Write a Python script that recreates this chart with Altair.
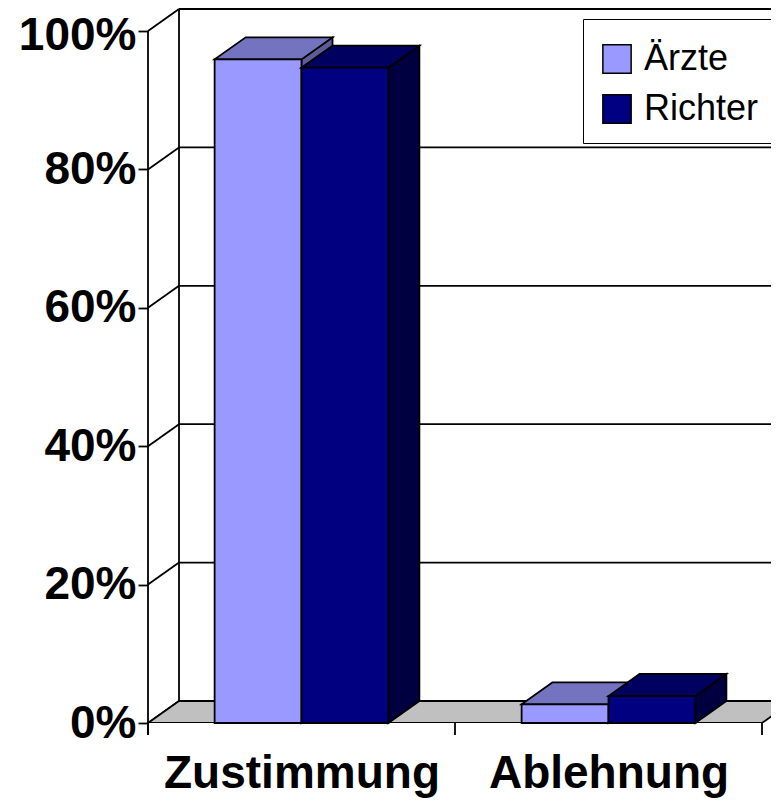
import json
import altair as alt
import pandas as pd

# ---- data ----
categories = ["Zustimmung", "Ablehnung"]
series = ["Ärzte", "Richter"]
aerzte = [95.9, 2.7]
richter = [94.7, 3.9]
y_ticks = [0, 20, 40, 60, 80, 100]

# ---- styling ----
front_colors = {"Ärzte": "#9999FF", "Richter": "#000080"}
top_colors = {"Ärzte": "#7373BF", "Richter": "#000060"}
side_colors = {"Ärzte": "#5C5C99", "Richter": "#000040"}
FONT = "Liberation Sans"
LW = 1.8

# geometry (category units on x, percent units on y)
BAR_W = 0.283
GAP = (1 - len(series) * BAR_W) / 2
DX = 0.101          # depth offset in category units
DY = 3.18           # depth offset in percent units
TICK = 1.73         # tick length below the floor, percent units
W, H = 623, 714
X_MAX = W / 307.0
Y_MAX = 100 + DY

values = {"Ärzte": aerzte, "Richter": richter}

xs = alt.Scale(domain=[0, X_MAX], nice=False, zero=False)
ys = alt.Scale(domain=[0, Y_MAX], nice=False, zero=False)

front_rows, top_rows, side_rows = [], [], []
for j, s in enumerate(series):
    for i, c in enumerate(categories):
        v = values[s][i]
        x0 = i + GAP + j * BAR_W
        x1 = x0 + BAR_W
        bid = f"{s}-{c}"
        front_rows.append({"series": s, "cat": c, "x": x0, "x2": x1, "y": v, "y2": 0})
        top_rows.append({"id": bid, "series": s, "y": v, "xl": x0, "xr": x1})
        top_rows.append({"id": bid, "series": s, "y": v + DY, "xl": x0 + DX, "xr": x1 + DX})
        side_rows.append({"id": bid, "series": s, "x": x1, "yt": v, "yb": 0})
        side_rows.append({"id": bid, "series": s, "x": x1 + DX, "yt": v + DY, "yb": DY})

front_df = pd.DataFrame(front_rows)
top_df = pd.DataFrame(top_rows)
side_df = pd.DataFrame(side_rows)

n = len(categories)
grid_df = pd.DataFrame({"t": y_ticks})
grid_df["yb"] = grid_df["t"] + DY
grid_df["x1"] = DX
grid_df["x2"] = X_MAX
grid_df["x0"] = 0.0

floor_df = pd.DataFrame({"y": [0, DY], "xl": [0, DX], "xr": [n, n + DX]})
tick_df = pd.DataFrame({"x": list(range(n + 1)), "y": -TICK, "y2": 0})

XAXIS = alt.Axis(values=[i + 0.5 for i in range(n)],
                 labelExpr=f"{json.dumps(categories)}[floor(datum.value)]",
                 ticks=False, domain=False, grid=False, title=None,
                 labelFontSize=46, labelFontWeight="bold", labelFont=FONT,
                 labelColor="black", labelPadding=28, labelFlush=False,
                 labelOverlap=False, labelLimit=600)
YAXIS = alt.Axis(values=y_ticks, labelExpr="datum.value + '%'",
                 domain=False, grid=False, title=None,
                 tickSize=10, tickWidth=LW, tickColor="black",
                 labelFontSize=46, labelFontWeight="bold", labelFont=FONT,
                 labelColor="black", labelPadding=2,
                 labelOffset={"condition": {"test": f"datum.value == {max(y_ticks)}", "value": 4},
                              "value": 0})


def X(field):
    return alt.X(field, scale=xs, axis=XAXIS)


def Y(field):
    return alt.Y(field, scale=ys, axis=YAXIS)


# ---- layers ----
back_grid = alt.Chart(grid_df).mark_rule(color="black", strokeWidth=LW).encode(
    x=X("x1:Q"), x2="x2:Q", y=Y("yb:Q"))
wall_diag = alt.Chart(grid_df).mark_rule(color="black", strokeWidth=LW).encode(
    x=X("x0:Q"), x2="x1:Q", y=Y("t:Q"), y2="yb:Q")
wall_back = alt.Chart(pd.DataFrame({"x": [DX], "y": [DY], "y2": [100 + DY]})).mark_rule(
    color="black", strokeWidth=LW).encode(x=X("x:Q"), y=Y("y:Q"), y2="y2:Q")
floor = alt.Chart(floor_df).mark_area(
    orient="horizontal", fill="#C0C0C0", stroke="black", strokeWidth=LW, clip=True).encode(
    y=Y("y:Q"), x=X("xl:Q"), x2="xr:Q")

layers = [back_grid, wall_diag, wall_back, floor]

LEGEND = alt.Legend(orient="none", legendX=435, legendY=10, title=" ",
                    titleFontSize=6, titlePadding=0,
                    labelFontSize=36, labelFont=FONT, labelColor="black",
                    symbolType="square", symbolSize=800,
                    symbolStrokeColor="black", symbolStrokeWidth=1.5,
                    strokeColor="black", fillColor="white",
                    padding=16, rowPadding=14, labelOffset=9)

for s in series:
    side = alt.Chart(side_df[side_df.series == s]).mark_area(
        orient="vertical", fill=side_colors[s], stroke="black", strokeWidth=LW).encode(
        x=X("x:Q"), y=Y("yt:Q"), y2="yb:Q", detail="id:N")
    top = alt.Chart(top_df[top_df.series == s]).mark_area(
        orient="horizontal", fill=top_colors[s], stroke="black", strokeWidth=LW).encode(
        y=Y("y:Q"), x=X("xl:Q"), x2="xr:Q", detail="id:N")
    front = alt.Chart(front_df[front_df.series == s]).mark_rect(
        stroke="black", strokeWidth=LW).encode(
        x=X("x:Q"), x2="x2:Q", y=Y("y:Q"), y2="y2:Q",
        color=alt.Color("series:N",
                        scale=alt.Scale(domain=series, range=[front_colors[t] for t in series]),
                        legend=LEGEND))
    layers += [side, top, front]

front_line = alt.Chart(pd.DataFrame({"x": [0], "y": [-TICK], "y2": [100]})).mark_rule(
    color="black", strokeWidth=LW).encode(x=X("x:Q"), y=Y("y:Q"), y2="y2:Q")
x_ticks = alt.Chart(tick_df).mark_rule(color="black", strokeWidth=LW).encode(
    x=X("x:Q"), y=Y("y:Q"), y2="y2:Q")
layers += [front_line, x_ticks]

chart = alt.layer(*layers).properties(
    width=W, height=H,
    padding={"left": 140, "top": 1, "right": 0, "bottom": 78},
    autosize=alt.AutoSizeParams(type="none"),
    background="white",
).configure(font=FONT).configure_view(stroke=None)

chart.save("out.html", embed_options={"renderer": "svg", "actions": False})
